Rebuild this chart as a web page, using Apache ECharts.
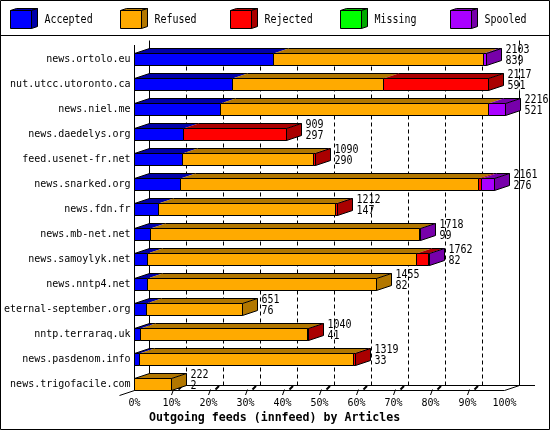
<!DOCTYPE html>
<html>
<head>
<meta charset="utf-8">
<style>html,body{margin:0;padding:0;background:#fff}#c{width:550px;height:430px}</style>
<script src="https://cdn.jsdelivr.net/npm/echarts@6/dist/echarts.min.js"></script>
</head>
<body>
<div id="c"></div>
<script>
const categories = ['news.ortolo.eu','nut.utcc.utoronto.ca','news.niel.me','news.daedelys.org','feed.usenet-fr.net','news.snarked.org','news.fdn.fr','news.mb-net.net','news.samoylyk.net','news.nntp4.net','eternal-september.org','nntp.terraraq.uk','news.pasdenom.info','news.trigofacile.com'];
const accepted = [37.7,26.5,23.3,13.2,12.9,12.4,6.4,4.3,3.5,3.5,3.3,1.6,1.3,0];
const refused  = [56.5,40.7,72.3,0,35.4,80.5,47.9,72.8,72.7,62.0,25.8,45.2,58.0,10.0];
const rejected = [0,28.5,0,27.8,0.5,0.8,0.5,0,3.3,0,0,0.2,0.4,0];
const missing  = [0,0,0,0,0,0,0,0,0,0,0,0,0,0];
const spooled  = [1.0,0,4.8,0,0,3.7,0,0.3,0.3,0,0,0,0,0];
const articles = [2103,2117,2216,909,1090,2161,1212,1718,1762,1455,651,1040,1319,222];
const volumes  = [839,591,521,297,290,276,147,99,82,82,76,41,33,2];
const statusNames = ['Accepted','Refused','Rejected','Missing','Spooled'];
const statusValues = [accepted,refused,rejected,missing,spooled];
const frontColors = ['#0000ff','#ffaa00','#ff0000','#00ff00','#aa00ff'];
const sideColors  = ['#0000aa','#b27700','#aa0000','#00aa00','#7700aa'];
const xTicks = [0,10,20,30,40,50,60,70,80,90,100];

const FONT = '10px "DejaVu Sans Mono"';
const TEXT_STRETCH = 1.18;
const DX = 15, DY = 5, HALF = 6;
const snap = v => Math.round(v - 0.5) + 0.5;

function ln(x1,y1,x2,y2,dash,w){
  return {type:'line',shape:{x1,y1,x2,y2},style:{stroke:'#000',lineWidth:w||1,lineDash:dash||null,fill:null}};
}
function poly(points,fill,stroke){
  return {type:'polygon',shape:{points},style:{fill,stroke:stroke||null,lineWidth:stroke?1:0}};
}

const Y_FRONT = 390.5, Y_BACK = 385.5, Y_TOP = 40.5;
function renderDecor(params,api){
  const ch = [];
  const x0 = snap(api.coord([0,0])[0]);
  const x100 = snap(api.coord([100,0])[0]);
  xTicks.forEach(t=>{
    const x = snap(api.coord([t,0])[0]);
    const bx = x + DX;
    if(t===0){
      ch.push(ln(bx,Y_TOP,bx,Y_BACK));
    }else if(t===100){
      ch.push(ln(bx,Y_TOP,bx,90.5,[4,3]));
      ch.push(ln(bx,90.5,bx,Y_BACK));
    }else{
      ch.push(ln(bx,Y_BACK,bx,48.5,[4,3]));
      ch.push(ln(x,395,x+2,389.5,null,1));
      ch.push(ln(x+7,389.5,x+10.5,386,null,2));
    }
  });
  ch.push(ln(x0,45,x0,Y_FRONT));
  ch.push(ln(x0,Y_FRONT,x100,Y_FRONT));
  ch.push(ln(x0+DX,Y_BACK,535,Y_BACK));
  ch.push(ln(x0-DX,395.5,x0,Y_FRONT));
  ch.push(ln(x100,Y_FRONT,x100+DX,Y_BACK));
  return {type:'group',children:ch};
}

function renderSegment(params,api){
  const row = api.value(0), start = api.value(1), end = api.value(2);
  const first = api.value(3), last = api.value(4), k = api.value(5);
  const c = api.coord([start,row]);
  const x0 = snap(c[0]), x1 = snap(api.coord([end,row])[0]);
  const yT = c[1]-HALF, yB = c[1]+HALF;
  const ch = [
    poly([[x0,yT],[x1,yT],[x1+DX,yT-DY],[x0+DX,yT-DY]],sideColors[k]),
    ln(x0+DX,yT-DY,x1+DX,yT-DY)
  ];
  if(first) ch.push(ln(x0,yT,x0+DX,yT-DY));
  if(last) ch.push(poly([[x1,yT],[x1+DX,yT-DY],[x1+DX,yB-DY],[x1,yB]],sideColors[k],'#000'));
  ch.push({type:'rect',shape:{x:x0,y:yT,width:x1-x0,height:yB-yT},style:{fill:frontColors[k],stroke:'#000',lineWidth:1}});
  return {type:'group',children:ch};
}

function stretched(t,x,y,z){
  const el = {type:'text',x,y,scaleY:TEXT_STRETCH,style:{text:String(t),x:0,y:0,font:FONT,fill:'#000',verticalAlign:'middle',align:'left'}};
  if(z) el.z = z;
  return el;
}
function renderCounts(params,api){
  const row = api.value(0), end = api.value(1);
  const c = api.coord([end,row]);
  const x = snap(c[0]) + DX + 4;
  return {type:'group',children:[stretched(api.value(2),x,c[1]-9.5),stretched(api.value(3),x,c[1]+1.5)]};
}

const totals = categories.map((_,i)=>statusValues.reduce((s,a)=>s+a[i],0));
const segments = statusValues.map((vals,k)=>{
  const out = [];
  vals.forEach((v,i)=>{
    if(!v) return;
    const start = statusValues.slice(0,k).reduce((s,a)=>s+a[i],0);
    const isFirst = statusValues.slice(0,k).every(a=>!a[i]);
    const isLast = statusValues.slice(k+1).every(a=>!a[i]);
    out.push([i,start,start+v,isFirst?1:0,isLast?1:0,k]);
  });
  return out;
});

const series = [
  {type:'custom',name:'axes',silent:true,z:1,renderItem:renderDecor,data:[[0,0]],encode:{x:0,y:1},animation:false}
].concat(statusNames.map((n,k)=>({
  type:'custom',name:n,z:2+k,renderItem:renderSegment,data:segments[k],
  encode:{x:[1,2],y:0},animation:false
}))).concat([{
  type:'custom',name:'counts',silent:true,z:10,renderItem:renderCounts,
  data:categories.map((_,i)=>[i,totals[i],articles[i],volumes[i]]),
  encode:{x:1,y:0},animation:false
}]);

const legendXs = [10,120,230,340,450];
const graphics = [
  {type:'rect',z:100,shape:{x:0.5,y:0.5,width:549,height:429},style:{fill:null,stroke:'#000',lineWidth:1}},
  {type:'line',z:100,shape:{x1:0,y1:35.5,x2:550,y2:35.5},style:{stroke:'#000',lineWidth:1}}
];
statusNames.forEach((n,k)=>{
  const x = legendXs[k]+0.5, y = 10.5, w = 21, h = 18, d = 6, e = 2;
  graphics.push({type:'polygon',z:100,shape:{points:[[x,y],[x+d,y-e],[x+w+d,y-e],[x+w,y]]},style:{fill:sideColors[k],stroke:'#000',lineWidth:1}});
  graphics.push({type:'polygon',z:100,shape:{points:[[x+w,y],[x+w+d,y-e],[x+w+d,y+h-e],[x+w,y+h]]},style:{fill:sideColors[k],stroke:'#000',lineWidth:1}});
  graphics.push({type:'rect',z:100,shape:{x,y,width:w,height:h},style:{fill:frontColors[k],stroke:'#000',lineWidth:1}});
  graphics.push(stretched(n,legendXs[k]+34.5,20,100));
});

const chart = echarts.init(document.getElementById('c'),null,{renderer:'canvas'});
chart.setOption({
  animation:false,
  backgroundColor:'#fff',
  title:{text:'Outgoing feeds (innfeed) by Articles',left:149,top:411,padding:0,
    textStyle:{fontFamily:'"DejaVu Sans Mono"',fontSize:11.6,fontWeight:'bold',color:'#000',lineHeight:13}},
  legend:{show:false},
  tooltip:{show:false},
  grid:{left:134.5,top:47,width:370,height:350,containLabel:false},
  xAxis:{type:'value',min:0,max:100,interval:10,
    axisLine:{show:false},axisTick:{show:false},splitLine:{show:false},
    axisLabel:{show:true,margin:1,color:'#000',fontFamily:'"DejaVu Sans Mono"',fontSize:10,formatter:'{value}%',hideOverlap:false,showMinLabel:true,showMaxLabel:true}},
  yAxis:{type:'category',inverse:true,data:categories,
    axisLine:{show:false},axisTick:{show:false},splitLine:{show:false},
    axisLabel:{margin:4,color:'#000',fontFamily:'"DejaVu Sans Mono"',fontSize:10,interval:0}},
  graphic:graphics,
  series
});
</script>
</body>
</html>
